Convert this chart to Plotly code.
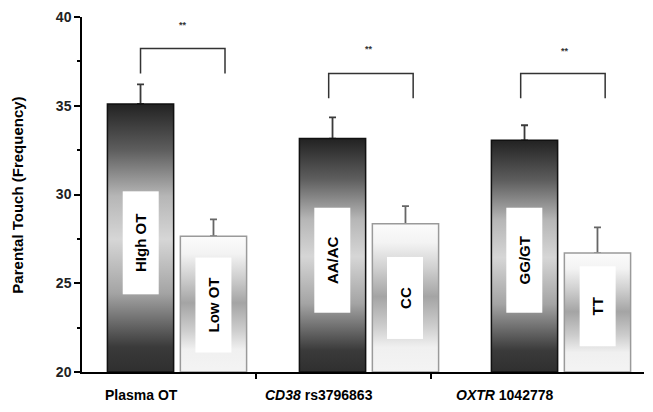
import plotly.graph_objects as go

# ---- data ----
groups = ["Plasma OT", "<i>CD38</i> rs3796863", "<i>OXTR</i> 1042778"]
high_labels = ["HIgh OT", "AA/AC", "GG/GT"]
low_labels = ["Low OT", "CC", "TT"]
high_means = [35.1, 33.15, 33.05]
low_means = [27.65, 28.35, 26.7]
high_err = [1.1, 1.2, 0.85]
low_err = [0.95, 1.0, 1.45]
sig_marks = ["**", "**", "**"]

# ---- layout constants (positions / styles) ----
BASE = 20
OFF = 0.19
BW = 0.345
FONT = "Liberation Sans, Arial, sans-serif"
bracket_top = [38.22, 36.82, 36.82]
bracket_drop = 1.4
bracket_left = [-0.19, -0.21, -0.21]
bracket_right = [0.25, 0.23, 0.23]
star_dx = [0.03, 0.0, 0.02]
star_y = [39.55, 38.2, 38.1]
high_box_y = [27.25, 26.27, 26.27]
high_box_len = [100, 102, 102]
low_box_y = [23.8, 24.17, 23.7]
low_box_len = [92, 79, 77]
label_x = [-0.1875, 0.74, 1.708]

dark_scale = [[0, "#2e2e2e"], [0.1, "#3a3a3a"], [0.3, "#a4a4a4"], [0.5, "#d6d6d6"],
              [0.66, "#b6b6b6"], [0.83, "#5e5e5e"], [1, "#232323"]]
light_scale = [[0, "#f4f4f4"], [0.18, "#f0f0f0"], [0.32, "#cdcdcd"], [0.52, "#a4a4a4"],
               [0.72, "#d2d2d2"], [0.88, "#f3f3f3"], [1, "#fbfbfb"]]

xs = list(range(len(groups)))
hx = [x - OFF for x in xs]
lx = [x + OFF for x in xs]

fig = go.Figure()

# bar traces carry data + error bars
fig.add_trace(go.Bar(x=hx, y=high_means, width=BW, marker=dict(color="rgba(0,0,0,0)", line=dict(width=0)),
                     error_y=dict(type="data", symmetric=False, array=high_err, arrayminus=[0] * 3,
                                  color="#3a3a3a", thickness=1.8, width=3.5),
                     showlegend=False, hoverinfo="skip"))
fig.add_trace(go.Bar(x=lx, y=low_means, width=BW, marker=dict(color="rgba(0,0,0,0)", line=dict(width=0)),
                     error_y=dict(type="data", symmetric=False, array=low_err, arrayminus=[0] * 3,
                                  color="#666", thickness=1.8, width=3.5),
                     showlegend=False, hoverinfo="skip"))

# gradient fills on top of the bars
def grad_bar(c, v, scale, lc):
    x0, x1 = c - BW / 2, c + BW / 2
    fig.add_trace(go.Scatter(x=[x0, x0, x1, x1, x0], y=[BASE, v, v, BASE, BASE], mode="lines",
                             fill="toself",
                             fillgradient=dict(type="vertical", colorscale=scale, start=BASE, stop=v),
                             line=dict(color=lc, width=1.5), showlegend=False, hoverinfo="skip"))

for c, v in zip(hx, high_means):
    grad_bar(c, v, dark_scale, "#111111")
for c, v in zip(lx, low_means):
    grad_bar(c, v, light_scale, "#9a9a9a")

# significance brackets
for i in xs:
    l, r = i + bracket_left[i], i + bracket_right[i]
    t = bracket_top[i]
    fig.add_trace(go.Scatter(x=[l, l, r, r], y=[t - bracket_drop, t, t, t - bracket_drop], mode="lines",
                             line=dict(color="#333", width=1.5), showlegend=False, hoverinfo="skip"))

ann = []
for i in xs:
    ann.append(dict(x=i + star_dx[i], y=star_y[i], text=sig_marks[i], showarrow=False,
                    font=dict(family=FONT, size=9, color="#333", weight="bold")))
    ann.append(dict(x=hx[i], y=high_box_y[i], text=high_labels[i], showarrow=False, textangle=-90,
                    bgcolor="white", width=high_box_len[i], height=33,
                    font=dict(family=FONT, size=15, color="black", weight="bold")))
    ann.append(dict(x=lx[i], y=low_box_y[i], text=low_labels[i], showarrow=False, textangle=-90,
                    bgcolor="white", width=low_box_len[i], height=33,
                    font=dict(family=FONT, size=15, color="black", weight="bold")))
    ann.append(dict(x=label_x[i], xref="x", y=-0.0644, yref="paper", yanchor="middle", xanchor="center",
                    text=groups[i], showarrow=False,
                    font=dict(family=FONT, size=14, color="black", weight="bold")))
ann.append(dict(x=-0.1145, y=0.4986, xref="paper", yref="paper", xanchor="center", yanchor="middle",
                text="Parental Touch (Frequency)", textangle=-90, showarrow=False,
                font=dict(family=FONT, size=15, color="black", weight="bold")))

fig.update_layout(
    width=637, height=396,
    margin=dict(l=74, r=1, t=7, b=32),
    plot_bgcolor="white", paper_bgcolor="white",
    barmode="overlay",
    annotations=ann,
    xaxis=dict(range=[-0.4948, 2.4323], showgrid=False, zeroline=False, showline=True,
               linecolor="black", linewidth=1.5, tickvals=[0.411, 1.323], ticks="outside",
               ticklen=5, tickwidth=1.5, tickcolor="black", showticklabels=False),
    yaxis=dict(range=[20, 40], showgrid=False, zeroline=False, showline=True,
               linecolor="black", linewidth=1.5, dtick=5, ticks="outside", ticklen=6,
               tickwidth=1.5, tickcolor="black", ticklabeloverflow="allow",
               tickfont=dict(family=FONT, size=14, color="#222", weight="bold"),
               minor=dict(dtick=2.5, ticks="outside", ticklen=3, tickwidth=1.5, tickcolor="black")),
)

fig.write_html("out.html")
